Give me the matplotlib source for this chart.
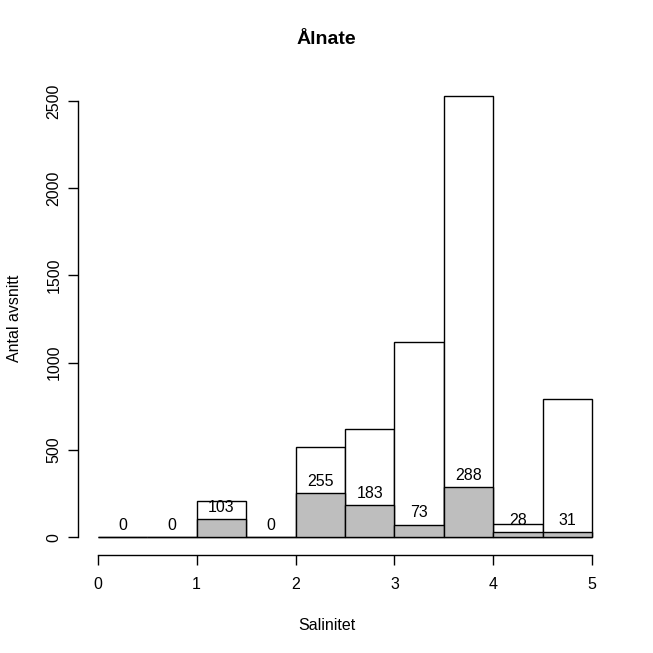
import matplotlib
matplotlib.use("Agg")
import matplotlib.pyplot as plt
import numpy as np

plt.rcParams['font.family'] = ['Liberation Sans', 'DejaVu Sans']

bin_edges = [0, 0.5, 1, 1.5, 2, 2.5, 3, 3.5, 4, 4.5, 5]
total_counts = [4, 0, 206, 0, 516, 619, 1118, 2529, 79, 795]
sub_counts = [0, 0, 103, 0, 255, 183, 73, 288, 28, 31]

title = "Ålnate"
xlabel = "Salinitet"
ylabel = "Antal avsnitt"
xticks = [0, 1, 2, 3, 4, 5]
yticks = [0, 500, 1000, 1500, 2000, 2500]

fig = plt.figure(figsize=(6.53, 6.53), dpi=100)
ax = fig.add_axes([78/653, 1-555/653, (612-78)/653, (555-78)/653])

lefts = np.array(bin_edges[:-1])
widths = np.diff(bin_edges)
ax.bar(lefts, total_counts, width=widths, align='edge', color='white',
       edgecolor='black', linewidth=1.0)
ax.bar(lefts, sub_counts, width=widths, align='edge', color='#bebebe',
       edgecolor='black', linewidth=1.0)

for l, w, c in zip(lefts, widths, sub_counts):
    ax.annotate(str(c), (l + w/2, c), xytext=(0, 8.5), textcoords='offset points',
                ha='center', va='center', fontsize=11.5)

ax.set_xlim(-0.2, 5.2)
ax.set_ylim(-101.2, 2631)
ax.spines['top'].set_visible(False)
ax.spines['right'].set_visible(False)
ax.spines['bottom'].set_bounds(0, 5)
ax.spines['left'].set_bounds(0, 2500)
ax.set_xticks(xticks)
ax.set_yticks(yticks)
ax.set_xticklabels([str(t) for t in xticks])
ax.set_yticklabels([str(t) for t in yticks], rotation=90, va='center')
ax.tick_params(direction='out', length=7, width=1, labelsize=11.5)
ax.tick_params(axis='x', pad=9)
ax.tick_params(axis='y', pad=5)
for s in ['bottom', 'left']:
    ax.spines[s].set_linewidth(1)

fig.text(0.5, 1-40/653, title, ha='center', va='center', fontsize=14, fontweight='bold')
fig.text(0.5, 1-625/653, xlabel, ha='center', va='center', fontsize=11.5)
fig.text(15/653, 1-318/653, ylabel, ha='center', va='center', rotation=90, fontsize=11.5)

fig.savefig("out.png", dpi=100)
